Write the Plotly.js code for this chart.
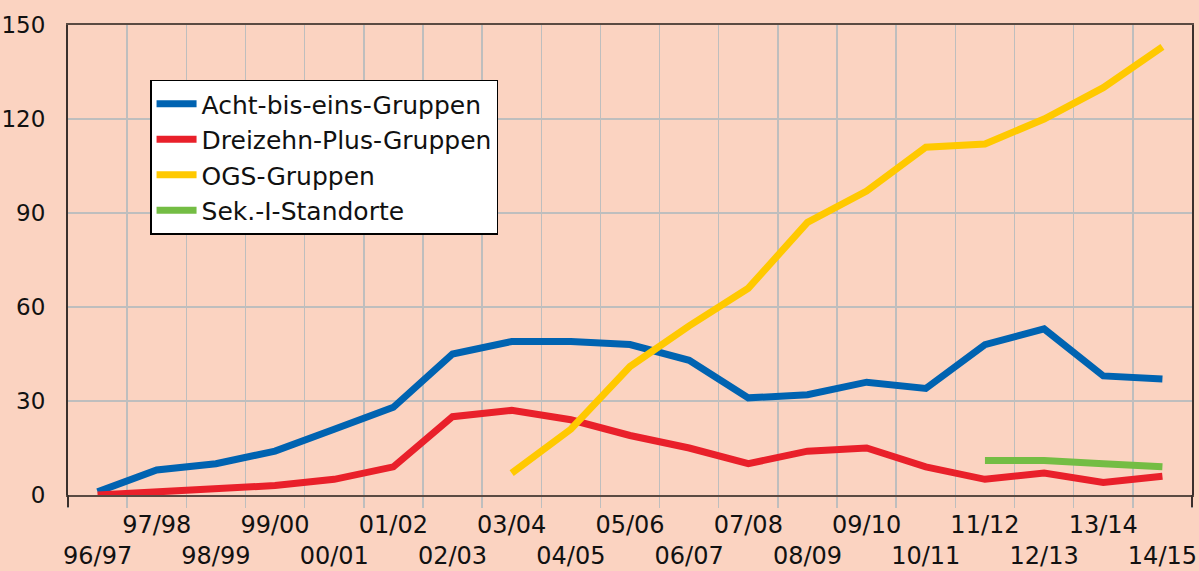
<!DOCTYPE html>
<html>
<head>
<meta charset="utf-8">
<script src="https://cdn.plot.ly/plotly-3.0.1.min.js"></script>
<style>html,body{margin:0;padding:0;background:#FBD3C1;}</style>
</head>
<body>
<div id="chart" style="width:1199px;height:571px;"></div>
<script>
// Data
const years = ["96/97","97/98","98/99","99/00","00/01","01/02","02/03","03/04","04/05","05/06","06/07","07/08","08/09","09/10","10/11","11/12","12/13","13/14","14/15"];
const achtBisEins = [1,8,10,14,21,28,45,49,49,48,43,31,32,36,34,48,53,38,37];
const dreizehnPlus = [0,1,2,3,5,9,25,27,24,19,15,10,14,15,9,5,7,4,6];
const ogs = [null,null,null,null,null,null,null,7,21,41,54,66,87,97,111,112,120,130,143];
const sekI = [null,null,null,null,null,null,null,null,null,null,null,null,null,null,null,11,11,10,9];
const seriesNames = ["Acht-bis-eins-Gruppen","Dreizehn-Plus-Gruppen","OGS-Gruppen","Sek.-I-Standorte"];
const yTicks = [0,30,60,90,120,150];

// Alternating two-row tick labels
const tickText = years.map((y,i) => i % 2 === 1 ? y : "\u00A0<br>" + y);

const colors = ["#0063B1","#E9202A","#FFC900","#74BD44"];
const seriesData = [achtBisEins, dreizehnPlus, ogs, sekI];

const traces = seriesData.map((d,i) => ({
  x: years, y: d, name: seriesNames[i], type: "scatter", mode: "lines",
  line: {color: colors[i], width: 7}, legendgroup: "g"+i,
  connectgaps: false, hoverinfo: "skip"
}));

const font = "'DejaVu Sans', 'Noto Sans', sans-serif";
const layout = {
  width: 1199, height: 571,
  paper_bgcolor: "#FBD3C1", plot_bgcolor: "#FBD3C1",
  margin: {l: 68, r: 7, t: 25, b: 76},
  showlegend: true,
  legend: {
    x: 0.073, y: 0.884, xanchor: "left", yanchor: "top",
    bgcolor: "#FFFFFF", bordercolor: "#000000", borderwidth: 1.5,
    font: {family: font, size: 25, color: "#111"},
    traceorder: "grouped", tracegroupgap: 0, itemwidth: 40
  },
  xaxis: {
    type: "category", categoryorder: "array", categoryarray: years,
    range: [-0.5, 18.5], tickson: "boundaries",
    tickmode: "array", tickvals: years, ticktext: tickText,
    ticks: "outside", ticklen: 11, tickcolor: "#BEBEBE", tickwidth: 1.5,
    ticklabelstandoff: 7,
    showgrid: true, gridcolor: "#BEBEBE", gridwidth: 1.5,
    showline: true, linecolor: "#5A4A42", linewidth: 2, mirror: true,
    tickfont: {family: font, size: 24, color: "#111"},
    tickangle: 0, fixedrange: true, zeroline: false
  },
  yaxis: {
    range: [0, 150], tickmode: "array", tickvals: yTicks,
    ticks: "", ticklabelstandoff: 16,
    showgrid: true, gridcolor: "#BEBEBE", gridwidth: 1.5,
    showline: true, linecolor: "#3A302C", linewidth: 2, mirror: true,
    zeroline: true, zerolinecolor: "#222", zerolinewidth: 1.5,
    tickfont: {family: font, size: 23, color: "#111"},
    fixedrange: true
  },
  shapes: [
    {type: "line", xref: "paper", yref: "paper", x0: 0, x1: 0, y0: 0, y1: -0.026, line: {color: "#3A302C", width: 2}},
    {type: "line", xref: "paper", yref: "paper", x0: 1, x1: 1, y0: 0, y1: -0.026, line: {color: "#3A302C", width: 2}}
  ]
};

Plotly.newPlot("chart", traces, layout, {displayModeBar: false, staticPlot: true});
</script>
</body>
</html>
